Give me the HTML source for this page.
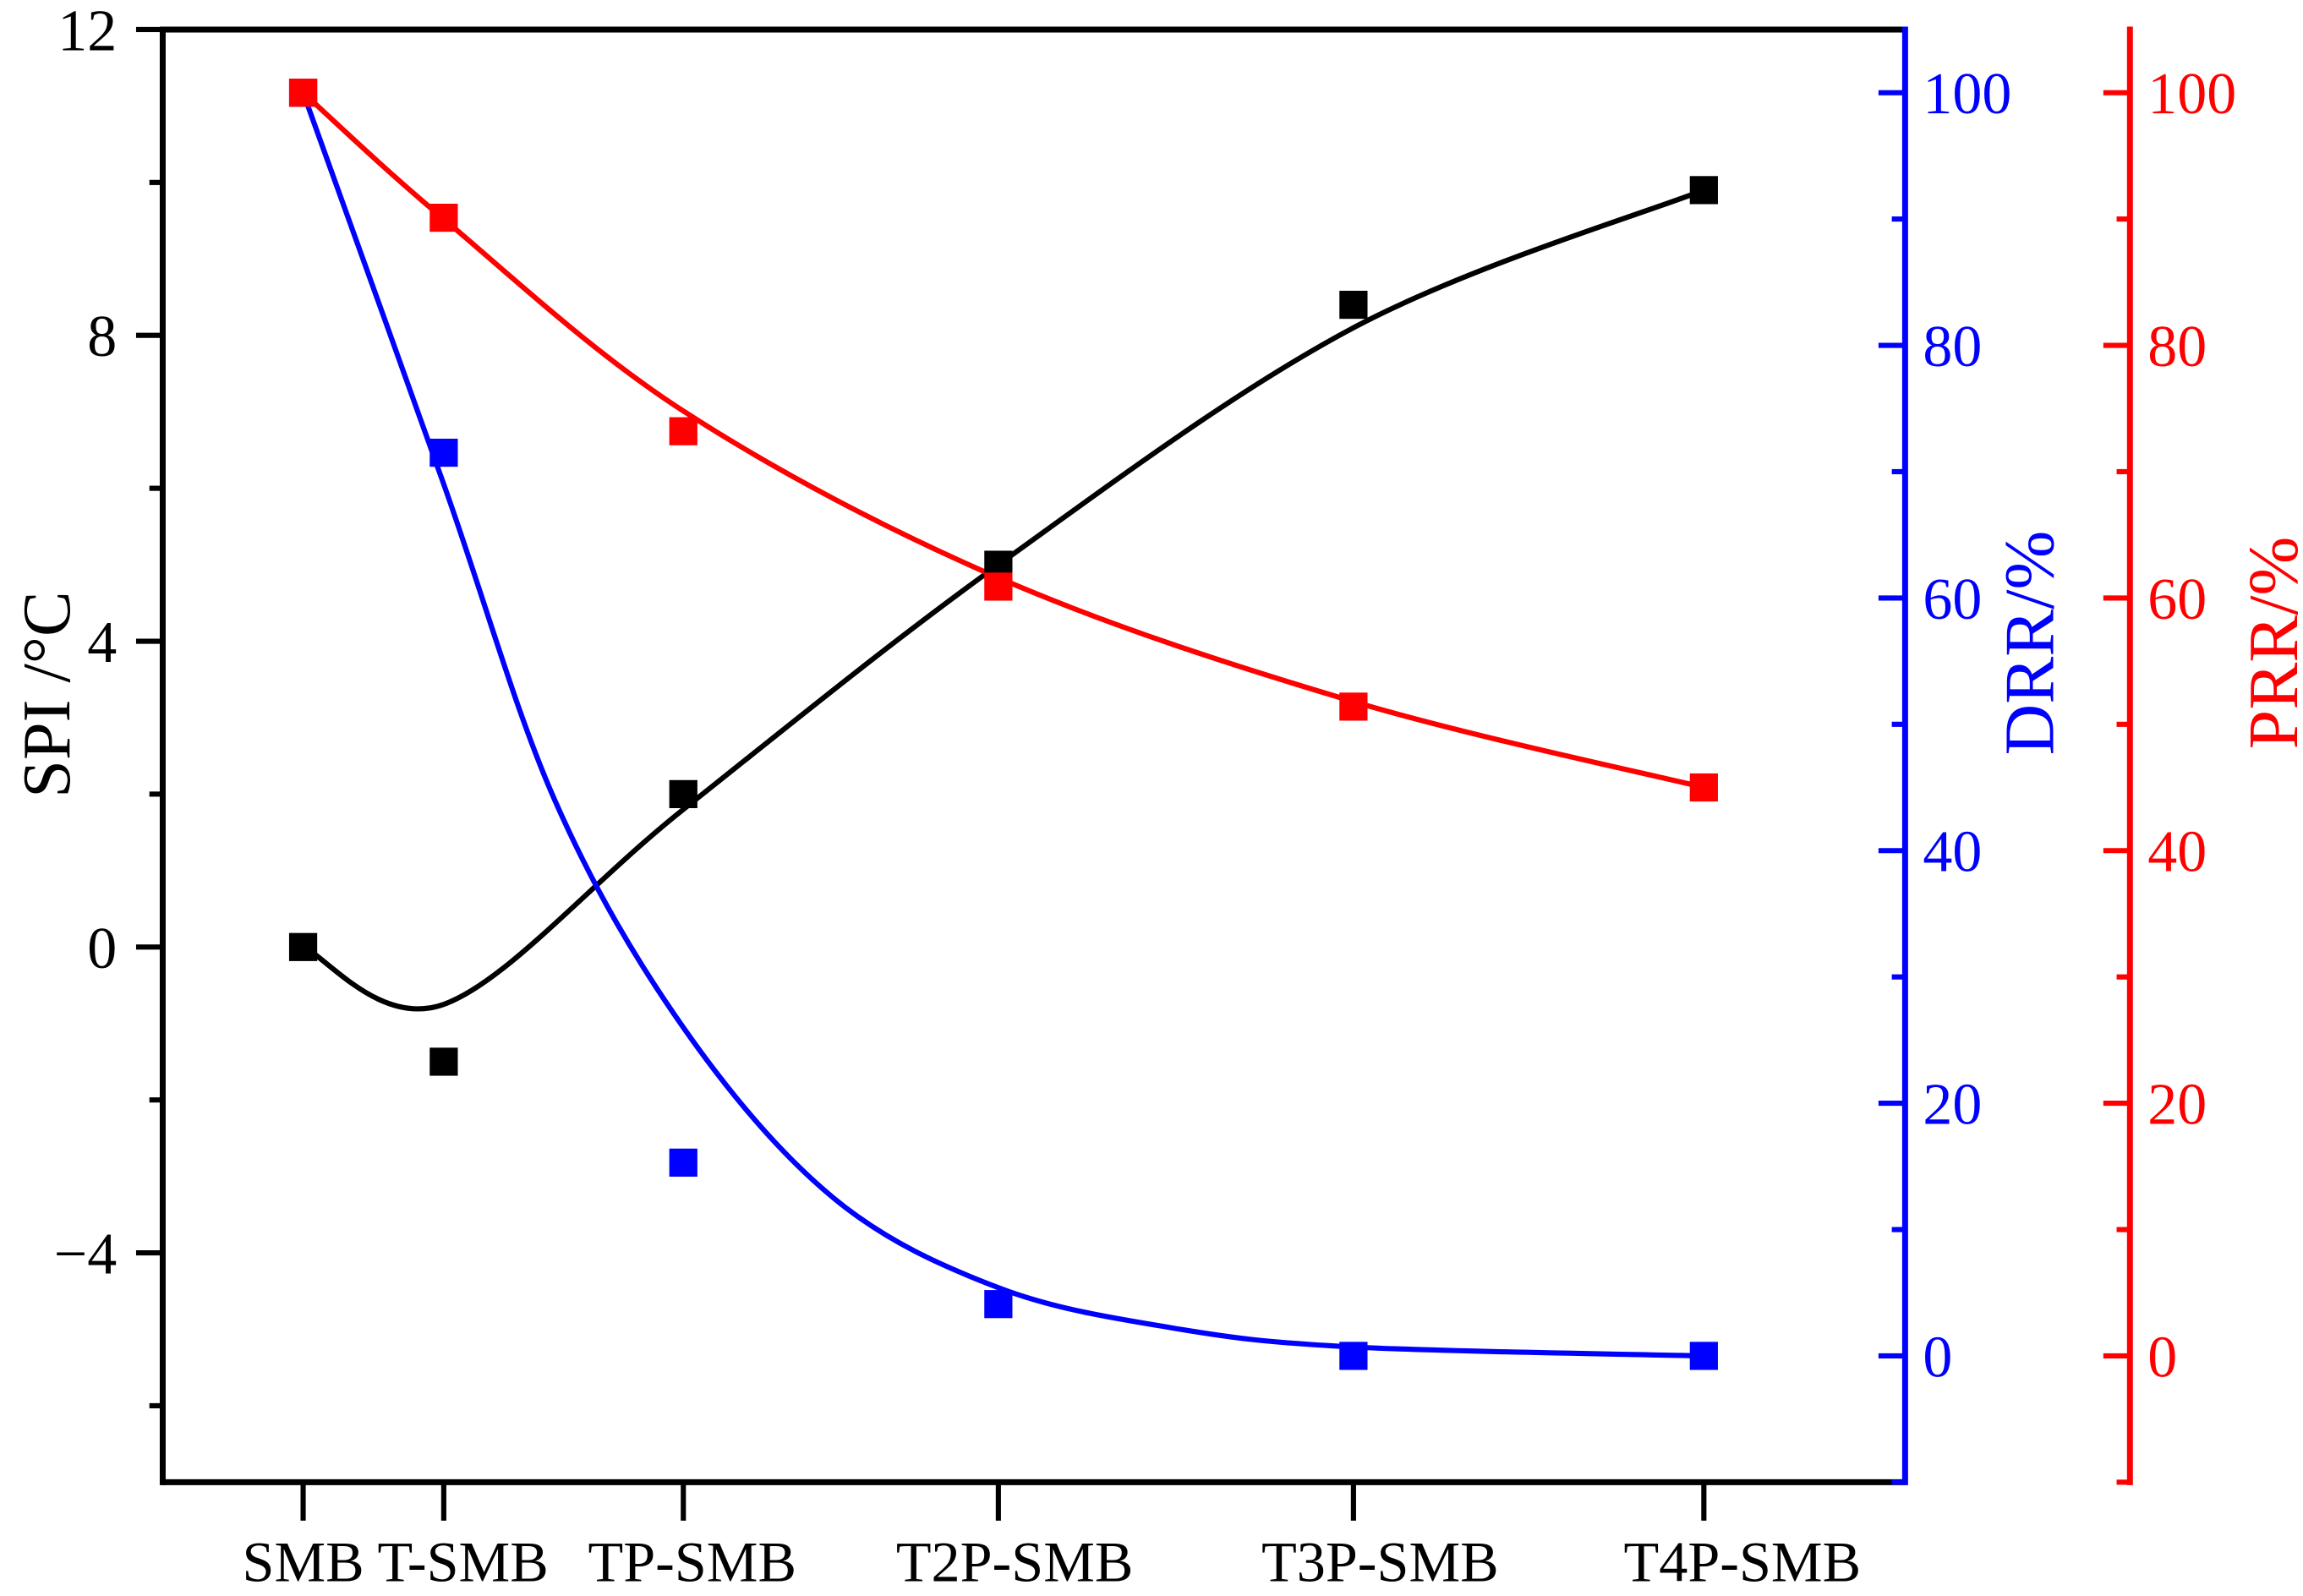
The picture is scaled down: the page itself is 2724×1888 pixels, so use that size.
<!DOCTYPE html>
<html><head><meta charset="utf-8"><style>
html,body{margin:0;padding:0;background:#fff}
svg{display:block;font-family:"Liberation Serif",serif}
</style></head><body>
<svg id="chart" width="2724" height="1888" viewBox="0 0 1557 1080" preserveAspectRatio="none" xmlns="http://www.w3.org/2000/svg"></svg>
<script>
const categories = ["SMB","T-SMB","TP-SMB","T2P-SMB","T3P-SMB","T4P-SMB"];
const catPos = [8.06, 16.13, 29.88, 47.96, 68.34, 88.45];
const spiValues = [0, -1.5, 2.0, 5.0, 8.4, 9.9];
const drrValues = [100, 71.5, 15.3, 4.1, 0, 0];
const prrValues = [100, 90.1, 73.2, 60.9, 51.4, 45.0];
const spiFit = [0, -0.75, 1.8, 5.0, 8.1, 9.9];
const drrFitX = [8.06, 16.13, 22.5, 29.88, 38.5, 47.96, 58, 68.34, 88.45];
const drrFit = [100, 69, 44, 26, 12.5, 5.4, 2.2, 0.7, 0];
const prrFit = [100, 90, 74.8, 61.6, 51.8, 45.0];
const leftTicks = [-4, 0, 4, 8, 12];
const rightTicks = [0, 20, 40, 60, 80, 100];

const NS = "http://www.w3.org/2000/svg";
const svg = document.getElementById("chart");
const L = 110, R = 1288, T = 20, B = 1003, RA = 1440;
const AW = 4, CW = 3.5, TW = 3.5;
const xS = v => L + (R - L) * v / 100;
const yL = v => B - (v + 7) / 19 * (B - T);
const yR = v => B - (v + 10) / 115 * (B - T);

function mk(tag, attrs, parent) {
  const e = document.createElementNS(NS, tag);
  for (const k in attrs) e.setAttribute(k, attrs[k]);
  (parent || svg).appendChild(e);
  return e;
}
function spline(pts) {
  let d = "M" + pts[0][0] + "," + pts[0][1];
  for (let i = 0; i < pts.length - 1; i++) {
    const p0 = pts[Math.max(0, i - 1)], p1 = pts[i], p2 = pts[i + 1], p3 = pts[Math.min(pts.length - 1, i + 2)];
    const c1x = p1[0] + (p2[0] - p0[0]) / 6, c1y = p1[1] + (p2[1] - p0[1]) / 6;
    const c2x = p2[0] - (p3[0] - p1[0]) / 6, c2y = p2[1] - (p3[1] - p1[1]) / 6;
    d += " C" + c1x + "," + c1y + " " + c2x + "," + c2y + " " + p2[0] + "," + p2[1];
  }
  return d;
}

let e;
e = mk("line", {x1: L, y1: T, x2: R, y2: T, stroke: "#000", "stroke-width": AW});


e = mk("line", {x1: L, y1: T - 2, x2: L, y2: B + 2, stroke: "#000", "stroke-width": AW});


e = mk("line", {x1: L, y1: B, x2: R, y2: B, stroke: "#000", "stroke-width": AW});


e = mk("line", {x1: R, y1: T - 2, x2: R, y2: B + 2, stroke: "#00f", "stroke-width": AW});


e = mk("line", {x1: RA, y1: T - 2, x2: RA, y2: B + 2, stroke: "#f00", "stroke-width": AW});



for (let v = -6; v <= 12; v += 2) {
  const major = leftTicks.includes(v);
  e = mk("line", {x1: L - (major ? 18 : 9), y1: yL(v), x2: L, y2: yL(v), stroke: "#000", "stroke-width": TW});
  
  
}
leftTicks.forEach(v => {
  e = mk("text", {x: 79, y: yL(v) + 14, "text-anchor": "end", "font-size": 40, fill: "#000"});
  e.textContent = v < 0 ? "\u2212" + Math.abs(v) : String(v);
  
  
});
[[R, "#00f", "drr"], [RA, "#f00", "prr"]].forEach(([ax, col, nm]) => {
  for (let v = -10; v <= 100; v += 10) {
    const major = v % 20 === 0;
    e = mk("line", {x1: ax - (major ? 18 : 9), y1: yR(v), x2: ax, y2: yR(v), stroke: col, "stroke-width": TW});
    
    
  }
  rightTicks.forEach(v => {
    e = mk("text", {x: ax + 12, y: yR(v) + 14, "font-size": 40, fill: col});
    e.textContent = String(v);
    
    
  });
});
const labelShift = [0, 13, 6, 11, 18, 26];
categories.forEach((c, i) => {
  const x = xS(catPos[i]);
  e = mk("line", {x1: x, y1: B, x2: x, y2: B + 26, stroke: "#000", "stroke-width": TW});
  
  
  e = mk("text", {x: x + labelShift[i], y: 1070, "text-anchor": "middle", "font-size": 39, fill: "#000"});
  e.textContent = c;
  
  
});
e = mk("text", {x: 0, y: 0, transform: "translate(47,470) rotate(-90)", "text-anchor": "middle", "font-size": 46, fill: "#000"});
e.textContent = "SPI /\u00B0C";


e = mk("text", {x: 0, y: 0, transform: "translate(1388,435) rotate(-90)", "text-anchor": "middle", "font-size": 48, fill: "#00f"});
e.textContent = "DRR/%";


e = mk("text", {x: 0, y: 0, transform: "translate(1553,435) rotate(-90)", "text-anchor": "middle", "font-size": 48, fill: "#f00"});
e.textContent = "PRR/%";



e = mk("path", {d: spline(catPos.map((p, i) => [xS(p), yL(spiFit[i])])), fill: "none", stroke: "#000", "stroke-width": CW});


e = mk("path", {d: spline(drrFitX.map((p, i) => [xS(p), yR(drrFit[i])])), fill: "none", stroke: "#00f", "stroke-width": CW});


e = mk("path", {d: spline(catPos.map((p, i) => [xS(p), yR(prrFit[i])])), fill: "none", stroke: "#f00", "stroke-width": CW});



const S = 19;
catPos.forEach((p, i) => {
  const x = xS(p);
  e = mk("rect", {x: x - S / 2, y: yR(drrValues[i]) - S / 2, width: S, height: S, fill: "#00f"});
  
  
  e = mk("rect", {x: x - S / 2, y: yL(spiValues[i]) - S / 2, width: S, height: S, fill: "#000"});
  
  
  e = mk("rect", {x: x - S / 2, y: yR(prrValues[i]) - S / 2, width: S, height: S, fill: "#f00"});
  
  
});
</script>
</body></html>
